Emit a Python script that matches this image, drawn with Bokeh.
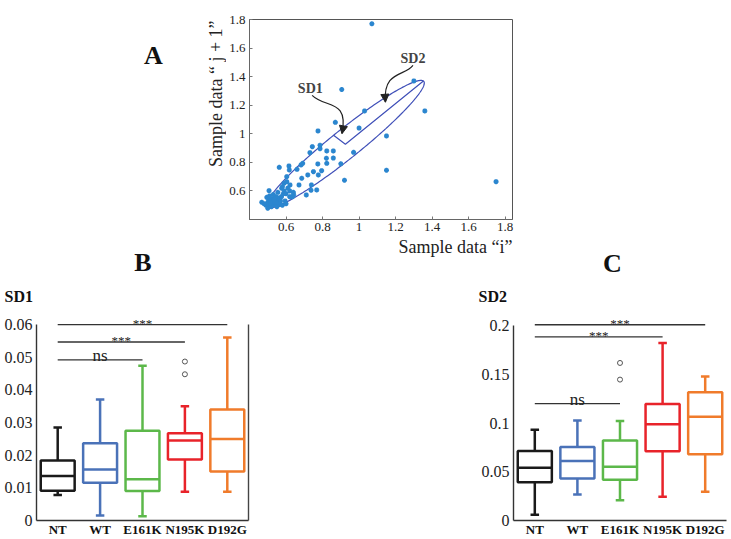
import numpy as np
from bokeh.plotting import figure
from bokeh.layouts import column, row
from bokeh.models import (Spacer, Label, Arrow, NormalHead, LinearAxis, FixedTicker,
                          Range1d, ColumnDataSource)
from bokeh.core.properties import value
from bokeh.embed import file_html
from bokeh.resources import INLINE

SERIF = "Liberation Serif"

# ---------------- Panel A data (Poincare plot) ----------------
scatter_x = [1.07, 1.30, 1.36, 0.905, 1.03, 0.87, 1.00, 1.15, 0.97, 0.90, 0.92, 1.15, 1.75,
             0.775, 0.786, 0.786, 0.731, 0.744, 0.823, 0.859, 0.859, 0.821, 0.823, 0.774,
             0.795, 0.750, 0.719, 0.777, 0.739, 0.711, 0.768, 0.737, 0.682, 0.691, 0.660,
             0.616, 0.618, 0.563, 0.604, 0.686, 0.671, 0.635, 0.642, 0.589, 0.622, 0.604,
             0.576,
             0.467, 0.507, 0.500, 0.510, 0.520, 0.530, 0.500, 0.490, 0.515, 0.525, 0.540,
             0.550, 0.560, 0.545, 0.535, 0.520, 0.505, 0.495, 0.560, 0.570, 0.575, 0.585,
             0.590, 0.600, 0.610, 0.620, 0.555, 0.565, 0.580, 0.600, 0.595, 0.530, 0.510,
             0.480, 0.545, 0.620, 0.640, 0.580, 0.550, 0.525, 0.535, 0.515]
scatter_y = [1.77, 1.37, 1.16, 1.31, 1.16, 1.08, 1.04, 0.985, 0.87, 0.79, 0.675, 0.745, 0.665,
             1.02, 0.92, 0.896, 0.868, 0.91, 0.88, 0.88, 0.83, 0.829, 0.793, 0.789,
             0.742, 0.735, 0.712, 0.712, 0.642, 0.572, 0.607, 0.605, 0.782, 0.793, 0.751,
             0.775, 0.747, 0.765, 0.700, 0.689, 0.642, 0.560, 0.572, 0.654, 0.642, 0.665,
             0.619,
             0.521, 0.602, 0.479, 0.500, 0.510, 0.520, 0.520, 0.500, 0.530, 0.545, 0.530,
             0.540, 0.550, 0.560, 0.505, 0.490, 0.540, 0.555, 0.520, 0.530, 0.560, 0.580,
             0.600, 0.580, 0.620, 0.600, 0.590, 0.505, 0.500, 0.510, 0.530, 0.575, 0.565,
             0.510, 0.515, 0.560, 0.590, 0.630, 0.490, 0.525, 0.540, 0.515]

ellipse_center = (0.925, 0.927)
sd2_half_axis = 0.615
sd1_half_axis = 0.09
ellipse_angle_deg = 46.0

a_ticks = [0.6, 0.8, 1.0, 1.2, 1.4, 1.6, 1.8]
a_tick_labels = ["0.6", "0.8", "1", "1.2", "1.4", "1.6", "1.8"]

# ---------------- Panels B / C data (box plots) ----------------
categories = ["NT", "WT", "E161K", "N195K", "D192G"]
cat_pos = [1, 2, 3, 4, 5]
box_colors = ["#1a1a1a", "#4a72b8", "#5cb84a", "#e8232a", "#f07b2b"]

sd1_lower = [0.0078, 0.0015, 0.0013, 0.0088, 0.0088]
sd1_q1 = [0.0091, 0.0116, 0.0090, 0.0187, 0.0150]
sd1_median = [0.0136, 0.0156, 0.0126, 0.0245, 0.0250]
sd1_q3 = [0.0184, 0.0237, 0.0275, 0.0267, 0.0340]
sd1_upper = [0.0285, 0.0371, 0.0474, 0.0350, 0.0561]
sd1_outlier_pos = [4, 4]
sd1_outlier_val = [0.0487, 0.0448]
sd1_ticks = [0, 0.01, 0.02, 0.03, 0.04, 0.05, 0.06]
sd1_tick_labels = ["0", "0.01", "0.02", "0.03", "0.04", "0.05", "0.06"]
sd1_sig_to = [3, 4, 5]
sd1_sig_level = [0.0492, 0.0547, 0.0600]
sd1_sig_text = ["ns", "***", "***"]

sd2_lower = [0.0060, 0.0268, 0.0208, 0.0245, 0.0295]
sd2_q1 = [0.0392, 0.0432, 0.0419, 0.0710, 0.0680]
sd2_median = [0.0543, 0.0610, 0.0553, 0.0988, 0.1065]
sd2_q3 = [0.0714, 0.0754, 0.0821, 0.1196, 0.1317]
sd2_upper = [0.0931, 0.1028, 0.1022, 0.1822, 0.1480]
sd2_outlier_pos = [3, 3]
sd2_outlier_val = [0.1618, 0.1447]
sd2_ticks = [0, 0.05, 0.1, 0.15, 0.2]
sd2_tick_labels = ["0", "0.05", "0.1", "0.15", "0.2"]
sd2_sig_to = [3, 4, 5]
sd2_sig_level = [0.1200, 0.1886, 0.2010]
sd2_sig_text = ["ns", "***", "***"]


def strip(p):
    p.xgrid.visible = False
    p.ygrid.visible = False
    p.background_fill_color = "white"
    p.border_fill_color = "white"


def text_canvas(width, top, bottom):
    """A blank figure whose frame fills its canvas; y = -page_row."""
    p = figure(width=width, height=bottom - top, x_range=Range1d(0, width),
               y_range=Range1d(-bottom, -top), x_axis_type=None, y_axis_type=None,
               output_backend="svg", toolbar_location=None,
               min_border_left=0, min_border_right=0, min_border_top=0, min_border_bottom=0)
    strip(p)
    p.outline_line_color = None
    return p


def put(p, x, y, txt, size, bold=False, align="center", angle=0.0, color="#111111"):
    p.text(x=[x], y=[-y], text=[txt], angle=angle, text_font=value(SERIF),
           text_font_size=size, text_font_style="bold" if bold else "normal",
           text_align=align, text_baseline="middle", text_color=color)


# ======================= Panel A =======================
pa = figure(width=505, height=237, x_range=Range1d(0.4, 1.84), y_range=Range1d(0.4, 1.8),
            output_backend="svg", toolbar_location=None,
            min_border_left=23, min_border_right=219, min_border_top=19, min_border_bottom=18)
strip(pa)
pa.outline_line_color = "#555555"
pa.outline_line_width = 1
for ax in (pa.xaxis[0], pa.yaxis[0]):
    ax.ticker = FixedTicker(ticks=a_ticks)
    ax.major_label_overrides = dict(zip(a_ticks, a_tick_labels))
    ax.minor_tick_line_color = None
    ax.major_tick_in = 3
    ax.major_tick_out = 0
    ax.major_tick_line_color = "#777777"
    ax.axis_line_color = "#666666"
    ax.major_label_text_font = SERIF
    ax.major_label_text_font_size = "13px"
    ax.major_label_text_color = "#222222"
pa.xaxis.major_label_standoff = 3
pa.yaxis.major_label_standoff = 4

th = np.deg2rad(ellipse_angle_deg)
ux, uy = np.cos(th), np.sin(th)
vx, vy = -np.sin(th), np.cos(th)
t = np.linspace(0, 2 * np.pi, 240)
cx, cy = ellipse_center
ex = cx + sd2_half_axis * np.cos(t) * ux + sd1_half_axis * np.sin(t) * vx
ey = cy + sd2_half_axis * np.cos(t) * uy + sd1_half_axis * np.sin(t) * vy
pa.line(ex, ey, line_color="#3f4fb8", line_width=1.2)
sd_x = [cx + sd1_half_axis * vx, cx, cx + sd2_half_axis * ux]
sd_y = [cy + sd1_half_axis * vy, cy, cy + sd2_half_axis * uy]
pa.line(sd_x, sd_y, line_color="#3f4fb8", line_width=1.2)

pa.scatter(scatter_x, scatter_y, marker="asterisk", size=5, line_color="#2b86cf", line_width=1.6)

sd1_curve = dict(x0=0.743, y0=1.269, cx0=0.816, cy0=1.176, cx1=0.943, cy1=1.246, x1=0.907, y1=1.005)
sd2_curve = dict(x0=1.295, y0=1.479, cx0=1.253, cy0=1.402, cx1=1.131, cy1=1.444, x1=1.144, y1=1.225)
for c in (sd1_curve, sd2_curve):
    pa.bezier(x0=[c["x0"]], y0=[c["y0"]], x1=[c["x1"]], y1=[c["y1"]],
              cx0=[c["cx0"]], cy0=[c["cy0"]], cx1=[c["cx1"]], cy1=[c["cy1"]],
              line_color="#222222", line_width=1.2)
    dx, dy = c["x1"] - c["cx1"], c["y1"] - c["cy1"]
    pa.add_layout(Arrow(end=NormalHead(size=8, fill_color="#222222", line_color="#222222"),
                        x_start=c["x1"] - 0.08 * dx, y_start=c["y1"] - 0.08 * dy,
                        x_end=c["x1"] + 0.02 * dx, y_end=c["y1"] + 0.02 * dy,
                        line_color="#222222", line_width=1))

pa.add_layout(Label(x=0.733, y=1.316, text="SD1", text_font=SERIF, text_font_style="bold",
                    text_font_size="14px", text_align="center", text_baseline="middle"))
pa.add_layout(Label(x=1.295, y=1.526, text="SD2", text_font=SERIF, text_font_style="bold",
                    text_font_size="14px", text_align="center", text_baseline="middle"))

# left text area of the top row: panel letter and y-axis title
ta = text_canvas(226, 0, 237)
put(ta, 153, 43, "A", "26px", bold=True)
put(ta, 215, 88, "Sample data \u201c j + 1\u201d", "18px", angle=np.pi / 2, color="#222222")

# middle text strip: x-axis title of A, panel letters and panel titles
tm = text_canvas(731, 237, 308)
put(tm, 455, 246, "Sample data \u201ci\u201d", "18px", color="#222222")
put(tm, 142.5, 262, "B", "26px", bold=True)
put(tm, 612, 263, "C", "26px", bold=True)
put(tm, 4, 296, "SD1", "16px", bold=True, align="left")
put(tm, 478, 296, "SD2", "16px", bold=True, align="left")


# ======================= Box panels =======================
ROW_H = 231


def box_panel(width, x_range, y_range, axis_top, mleft, mright, mtop,
              lower, q1, med, q3, upper, opos, oval, ticks, tick_labels,
              sig_to, sig_level, sig_text, right_line):
    p = figure(width=width, height=ROW_H, x_range=x_range, y_range=y_range,
               output_backend="svg", toolbar_location=None,
               min_border_left=mleft, min_border_right=mright, min_border_top=mtop,
               min_border_bottom=17)
    strip(p)
    p.outline_line_color = None
    src = ColumnDataSource(dict(x=cat_pos, lower=lower, q1=q1, med=med, q3=q3, upper=upper,
                                color=box_colors,
                                bl=[v - 0.4 for v in cat_pos], br=[v + 0.4 for v in cat_pos],
                                cl=[v - 0.1 for v in cat_pos], cr=[v + 0.1 for v in cat_pos]))
    lw = 2.5
    p.segment(x0="x", y0="q3", x1="x", y1="upper", line_color="color", line_width=lw, source=src)
    p.segment(x0="x", y0="q1", x1="x", y1="lower", line_color="color", line_width=lw, source=src)
    p.segment(x0="cl", y0="upper", x1="cr", y1="upper", line_color="color", line_width=lw, source=src)
    p.segment(x0="cl", y0="lower", x1="cr", y1="lower", line_color="color", line_width=lw, source=src)
    p.quad(left="bl", right="br", bottom="q1", top="q3", fill_color="white",
           line_color="color", line_width=lw, source=src)
    p.segment(x0="bl", y0="med", x1="br", y1="med", line_color="color", line_width=lw, source=src)
    p.scatter(opos, oval, marker="circle", size=5, fill_color=None, line_color="#555555",
              line_width=1)

    for to, lev, txt in zip(sig_to, sig_level, sig_text):
        p.segment(x0=[cat_pos[0]], y0=[lev], x1=[to], y1=[lev], line_color="#333333", line_width=1.4)
        if txt == "ns":
            p.add_layout(Label(x=(cat_pos[0] + to) / 2, y=lev, y_offset=4, text=txt,
                               text_font=SERIF, text_font_size="17px", text_align="center",
                               text_baseline="alphabetic", text_color="#222222"))
        else:
            p.add_layout(Label(x=(cat_pos[0] + to) / 2, y=lev, y_offset=1, text=txt,
                               text_font=SERIF, text_font_size="13px", text_align="center",
                               text_baseline="alphabetic", text_color="#222222"))

    p.xaxis.ticker = FixedTicker(ticks=cat_pos)
    p.xaxis.major_label_overrides = dict(zip(cat_pos, categories))
    p.xaxis.major_label_text_font = SERIF
    p.xaxis.major_label_text_font_style = "bold"
    p.xaxis.major_label_text_font_size = "13px"
    p.xaxis.major_label_text_color = "#111111"
    p.xaxis.major_label_standoff = 1
    p.yaxis.ticker = FixedTicker(ticks=ticks)
    p.yaxis.major_label_overrides = dict(zip(ticks, tick_labels))
    p.yaxis.major_label_text_font = SERIF
    p.yaxis.major_label_text_font_size = "16px"
    p.yaxis.major_label_text_color = "#222222"
    p.yaxis.major_label_standoff = 4
    p.yaxis.bounds = (0, axis_top)
    for ax in (p.xaxis[0], p.yaxis[0]):
        ax.major_tick_in = 0
        ax.major_tick_out = 0
        ax.minor_tick_line_color = None
        ax.major_tick_line_color = None
        ax.axis_line_color = "#333333"
        ax.axis_line_width = 1.4
    if right_line:
        ra = LinearAxis(ticker=FixedTicker(ticks=[]), major_tick_line_color=None,
                        minor_tick_line_color=None, axis_line_color="#444444",
                        axis_line_width=1.4, major_label_standoff=0, bounds=(0, axis_top))
        p.add_layout(ra, "right")
    return p


pb = box_panel(258, Range1d(0.5, 5.5), Range1d(0, 0.0625), 0.0602, 36, 10, 8,
               sd1_lower, sd1_q1, sd1_median, sd1_q3, sd1_upper,
               sd1_outlier_pos, sd1_outlier_val, sd1_ticks, sd1_tick_labels,
               sd1_sig_to, sd1_sig_level, sd1_sig_text, True)
pc = box_panel(261, Range1d(0.5, 5.5), Range1d(0, 0.2095), 0.2005, 43, 5, 7,
               sd2_lower, sd2_q1, sd2_median, sd2_q3, sd2_upper,
               sd2_outlier_pos, sd2_outlier_val, sd2_ticks, sd2_tick_labels,
               sd2_sig_to, sd2_sig_level, sd2_sig_text, False)

layout = column(row(ta, pa), tm, row(pb, Spacer(width=212, height=ROW_H), pc))
open("out.html", "w").write(file_html(layout, INLINE))
